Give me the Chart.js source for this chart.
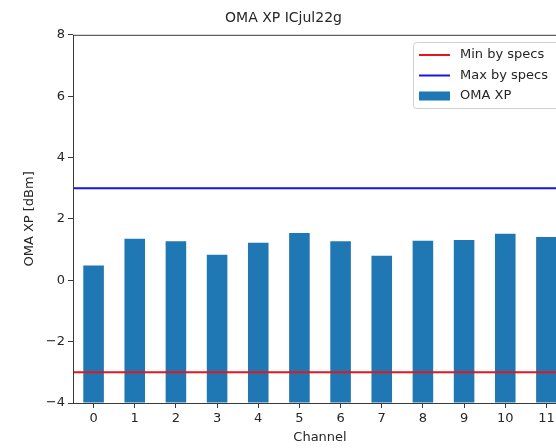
<!DOCTYPE html>
<html>
<head>
<meta charset="utf-8">
<script src="https://cdn.jsdelivr.net/npm/chart.js@4/dist/chart.umd.min.js"></script>
<style>
  html, body { margin: 0; padding: 0; background: #fff; overflow: hidden; }
  #wrap { width: 600px; height: 448px; }
</style>
</head>
<body>
<div id="wrap"><canvas id="omaChart" width="600" height="448"></canvas></div>
<script>
// OMA XP per channel with spec limits

const channels = ['0', '1', '2', '3', '4', '5', '6', '7', '8', '9', '10', '11'];
const omaXp = [0.48, 1.35, 1.27, 0.83, 1.22, 1.54, 1.27, 0.80, 1.29, 1.31, 1.52, 1.41];
const minSpec = -3;
const maxSpec = 3;
const xSpan = [-0.5, 11.5];
const yRange = { min: -4, max: 8, step: 2 };

const FONT = 'DejaVu Sans';
const INK = '#262626';

// matplotlib style frame round the plot area
const frame = {
    id: 'frame',
    afterDatasetsDraw(chart) {
        const { ctx, chartArea: a } = chart;
        ctx.save();
        ctx.strokeStyle = '#3a3a3a';
        ctx.lineWidth = 1;
        ctx.strokeRect(a.left + 0.5, a.top + 0.5, a.right - a.left, a.bottom - a.top);
        ctx.restore();
    }
};

// legend box in the upper right corner
const boxLegend = {
    id: 'boxLegend',
    afterDraw(chart) {
        const { ctx } = chart;
        const x = 413, y = 42, w = 160, h = 66;
        ctx.save();
        ctx.fillStyle = 'rgba(255,255,255,0.85)';
        ctx.strokeStyle = '#d0d0d0';
        ctx.lineWidth = 1;
        ctx.beginPath();
        ctx.roundRect(x + 0.5, y + 0.5, w, h, 3);
        ctx.fill();
        ctx.stroke();
        ctx.font = '13px ' + FONT;
        ctx.textBaseline = 'middle';
        const items = [chart.data.datasets[1], chart.data.datasets[2], chart.data.datasets[0]];
        items.forEach((ds, i) => {
            const cy = y + 13 + i * 20.5;
            if (ds.type === 'line') {
                ctx.strokeStyle = ds.borderColor;
                ctx.lineWidth = 2;
                ctx.beginPath();
                ctx.moveTo(419, cy);
                ctx.lineTo(450, cy);
                ctx.stroke();
            } else {
                ctx.fillStyle = ds.backgroundColor;
                ctx.fillRect(419, cy - 4.5, 31, 9);
            }
            ctx.fillStyle = INK;
            ctx.fillText(ds.label, 460, cy);
        });
        ctx.restore();
    }
};

const ctx = document.getElementById('omaChart').getContext('2d');
new Chart(ctx, {
    type: 'bar',
    data: {
        labels: channels,
        datasets: [
            { label: 'OMA XP', data: omaXp, base: yRange.min, grouped: false, backgroundColor: '#1f77b4', barPercentage: 0.5, categoryPercentage: 1, order: 2 },
            { type: 'line', label: 'Min by specs', xAxisID: 'x2', data: xSpan.map(x => ({ x, y: minSpec })), borderColor: '#e3161b', borderWidth: 2, pointRadius: 0, order: 0 },
            { type: 'line', label: 'Max by specs', xAxisID: 'x2', data: xSpan.map(x => ({ x, y: maxSpec })), borderColor: '#1515e6', borderWidth: 2, pointRadius: 0, order: 0 }
        ]
    },
    options: {
        responsive: false,
        animation: false,
        layout: { padding: { left: 0, right: 33, top: 0, bottom: 0 } },
        plugins: {
            legend: { display: false },
            tooltip: { enabled: false },
            title: {
                display: true,
                text: 'OMA XP ICjul22g',
                color: INK,
                font: { family: FONT, size: 14, weight: 'normal' },
                padding: { top: 10, bottom: 8 }
            }
        },
        scales: {
            x: {
                offset: true,
                grid: { display: true, drawOnChartArea: false, tickLength: 5, tickColor: '#3a3a3a', offset: false },
                border: { display: false },
                ticks: { color: INK, font: { family: FONT, size: 13 }, padding: 3, maxRotation: 0 },
                title: { display: true, text: 'Channel', color: INK, font: { family: FONT, size: 13 }, padding: { top: 0, bottom: 3 } },
                afterFit: s => { s.height = 45; }
            },
            x2: { type: 'linear', display: false, offset: false, min: xSpan[0], max: xSpan[1] },
            y: {
                min: yRange.min,
                max: yRange.max,
                grid: { display: true, drawOnChartArea: false, tickLength: 5, tickColor: '#3a3a3a' },
                border: { display: false },
                ticks: {
                    stepSize: yRange.step,
                    color: INK,
                    font: { family: FONT, size: 13 },
                    padding: 3,
                    callback: v => String(v).replace('-', '\u2212')
                },
                title: { display: true, text: 'OMA XP [dBm]', color: INK, font: { family: FONT, size: 13 }, padding: { top: 22, bottom: 0 } },
                afterFit: s => { s.width = 73; }
            }
        }
    },
    plugins: [frame, boxLegend]
});
</script>
</body>
</html>
